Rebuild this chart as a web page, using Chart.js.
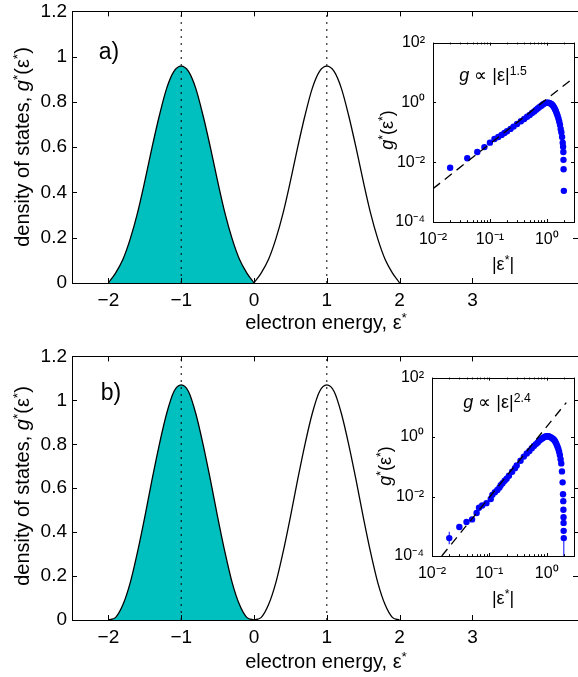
<!DOCTYPE html>
<html>
<head>
<meta charset="utf-8">
<script src="https://cdn.jsdelivr.net/npm/chart.js@4.4.1/dist/chart.umd.min.js"></script>
<style>
body{margin:0;background:#fff;font-family:'Liberation Sans',Arial,Helvetica,sans-serif;}
#fig{position:relative;width:578px;height:677px;overflow:hidden;}
#fig canvas{position:absolute;}
.lbl{position:absolute;white-space:nowrap;color:#000;line-height:1;}
.lbl sup{font-size:0.68em;vertical-align:0.5em;line-height:0;}
.ctr{transform:translate(-50%,-50%);}
.rot{transform:translate(-50%,-50%) rotate(-90deg);}
</style>
</head>
<body>
<div id="fig">
  <canvas id="mainA" width="578" height="345" style="left:0;top:-5px"></canvas>
  <canvas id="mainB" width="578" height="337" style="left:0;top:340px"></canvas>
  <canvas id="insA" width="198" height="260" style="left:380px;top:25px"></canvas>
  <canvas id="insB" width="198" height="260" style="left:380px;top:360px"></canvas>

  <div class="lbl rot" style="left:22px;top:147px;font-size:20px">density of states, <i>g</i><sup>*</sup>(ε<sup>*</sup>)</div>
  <div class="lbl ctr" style="left:326px;top:322px;font-size:20px">electron energy, ε<sup>*</sup></div>
  <div class="lbl ctr" style="left:109px;top:51px;font-size:23px">a)</div>
  <div class="lbl ctr" style="left:493px;top:75px;font-size:18px"><i>g</i> ∝ |ε|<sup>1.5</sup></div>
  <div class="lbl rot" style="left:387px;top:130px;font-size:18px"><i>g</i><sup>*</sup>(ε<sup>*</sup>)</div>
  <div class="lbl ctr" style="left:503px;top:264px;font-size:18px">|ε<sup>*</sup>|</div>

  <div class="lbl rot" style="left:22px;top:486px;font-size:20px">density of states, <i>g</i><sup>*</sup>(ε<sup>*</sup>)</div>
  <div class="lbl ctr" style="left:326px;top:661px;font-size:20px">electron energy, ε<sup>*</sup></div>
  <div class="lbl ctr" style="left:111px;top:392px;font-size:23px">b)</div>
  <div class="lbl ctr" style="left:497px;top:402px;font-size:18px"><i>g</i> ∝ |ε|<sup>2.4</sup></div>
  <div class="lbl rot" style="left:385px;top:466px;font-size:18px"><i>g</i><sup>*</sup>(ε<sup>*</sup>)</div>
  <div class="lbl ctr" style="left:503px;top:598px;font-size:18px">|ε<sup>*</sup>|</div>
</div>
<script>
// |energy| grid of the main curves (both bands are mirror images)
const EPS = [0,0.1,0.2,0.3,0.4,0.5,0.6,0.7,0.8,0.9,1.0,1.1,1.2,1.3,1.4,1.5,1.6,1.7,1.8,1.9,2.0];
const G_A = [0,0.045,0.105,0.195,0.31,0.45,0.6,0.74,0.86,0.935,0.958,0.935,0.86,0.74,0.6,0.45,0.31,0.195,0.105,0.045,0];
const G_B = [0,0.012,0.07,0.17,0.31,0.47,0.64,0.8,0.94,1.04,1.07,1.04,0.94,0.8,0.64,0.47,0.31,0.17,0.07,0.012,0];

const MAIN_X_TICKS = [-2,-1,0,1,2,3];
const MAIN_Y_TICKS = [0,0.2,0.4,0.6,0.8,1,1.2];
const MAIN_Y_LABELS = ['0','0.2','0.4','0.6','0.8','1','1.2'];
const PEAKS = [-1,1];

// inset a) : g vs |eps|, log-log
const IN_A_EPS = [0.02,0.04,0.06,0.08,0.10,0.12,0.14,0.16,0.18,0.20,0.23,0.26,0.30,
  0.35,0.40,0.45,0.50,0.55,0.60,0.65,0.70,0.75,0.80,0.85,0.90,0.95,1.00,1.05,1.10,1.15,1.20,
  1.25,1.30,1.35,1.40,1.45,1.50,1.55,1.60,1.65,1.70,1.75,1.80,1.85,1.90,
  1.93,1.95,1.96,1.97,1.99];
const IN_A_G = [0.0065,0.0135,0.022,0.032,0.045,0.06,0.07,0.082,0.095,0.108,0.13,0.155,0.19,
  0.235,0.28,0.33,0.38,0.44,0.5,0.57,0.64,0.71,0.78,0.85,0.91,0.95,0.98,0.98,0.96,0.93,0.88,
  0.82,0.74,0.66,0.58,0.5,0.42,0.35,0.29,0.23,0.18,0.13,0.1,0.07,0.045,
  0.033,0.022,0.012,0.0058,0.0011];
const FIT_A_EPS = [0.01,2.86];
const FIT_A_G = [0.0013,6.3];

// inset b)
const IN_B_EPS = [0.02,0.03,0.04,0.05,0.06,0.066,0.075,0.089,0.106,0.113,0.125,0.138,0.15,0.158,0.17,
  0.185,0.2,0.22,0.25,0.28,0.3,
  0.35,0.40,0.45,0.50,0.55,0.60,0.65,0.70,0.75,0.80,0.85,0.90,0.95,1.00,1.05,1.10,1.15,1.20,
  1.25,1.30,1.35,1.40,1.45,1.50,1.55,1.60,1.65,1.70,1.75,1.80,1.85,1.90,
  1.93,1.95,1.96,1.97,1.975,1.98,1.99];
const IN_B_G = [0.0004,0.00095,0.0014,0.0017,0.0028,0.0042,0.005,0.006,0.0083,0.0114,0.014,0.0166,0.02,0.024,0.028,
  0.034,0.04,0.05,0.068,0.09,0.11,
  0.16,0.22,0.28,0.34,0.42,0.5,0.58,0.66,0.76,0.84,0.92,0.99,1.04,1.07,1.07,1.04,1.0,0.96,
  0.91,0.86,0.8,0.72,0.64,0.55,0.47,0.4,0.32,0.25,0.18,0.13,0.07,0.03,
  0.012,0.007,0.0036,0.002,0.0013,0.0007,0.0004];
const FIT_B_EPS = [0.0148,2.2];
const FIT_B_G = [0.0001,14.5];
const ERR_B_EPS = [0.02,1.99];
const ERR_B_LO = [0.00025,0.0001];
const ERR_B_HI = [0.00065,0.0004];

const IN_X_TICKS = [0.01,0.1,1];
const IN_X_LABELS = ['10⁻²','10⁻¹','10⁰'];
const IN_Y_TICKS = [1e-4,1e-2,1,100];
const IN_Y_LABELS = ['10⁻⁴','10⁻²','10⁰','10²'];
const IN_X_MINOR = [0.02,0.03,0.04,0.05,0.06,0.07,0.08,0.09,0.2,0.3,0.4,0.5,0.6,0.7,0.8,0.9,2,3];

const FONT = "'Liberation Sans', Arial, Helvetica, sans-serif";
Chart.defaults.font.family = FONT;
Chart.defaults.color = '#000';

// matlab-like box with inward ticks
const boxTicks = {
  id: 'boxTicks',
  beforeDraw(chart, args, o) {
    if (!o.fill) return;
    const a = chart.chartArea, c = chart.ctx;
    c.save(); c.fillStyle = o.fill; c.fillRect(a.left, a.top, a.right - a.left, a.bottom - a.top); c.restore();
  },
  afterDraw(chart, args, o) {
    const {ctx, chartArea: a, scales: {x, y}} = chart;
    const L = o.len || 5;
    ctx.save();
    ctx.strokeStyle = '#000'; ctx.lineWidth = 1;
    ctx.beginPath();
    const vt = (v, len) => { const p = Math.round(x.getPixelForValue(v)) + 0.5;
      ctx.moveTo(p, a.bottom); ctx.lineTo(p, a.bottom - len); ctx.moveTo(p, a.top); ctx.lineTo(p, a.top + len); };
    const ht = (v, len) => { const p = Math.round(y.getPixelForValue(v)) + 0.5;
      ctx.moveTo(a.left, p); ctx.lineTo(a.left + len, p); ctx.moveTo(a.right, p); ctx.lineTo(a.right - len, p); };
    x.ticks.forEach(t => vt(t.value, L));
    y.ticks.forEach(t => ht(t.value, L));
    (o.minorX || []).forEach(v => vt(v, L * 0.6));
    ctx.stroke();
    ctx.strokeRect(Math.round(a.left) + 0.5, Math.round(a.top) + 0.5, Math.round(a.right - a.left), Math.round(a.bottom - a.top));
    ctx.restore();
  }
};

function mainChart(id, G, padTop, xH) {
  const left = EPS.map((e, i) => ({x: -e, y: G[i]})).reverse();
  const right = EPS.map((e, i) => ({x: e, y: G[i]}));
  const dotted = PEAKS.map(p => ({
    data: [{x: p, y: 0}, {x: p, y: 1.2}], borderColor: '#000', borderWidth: 1,
    borderDash: [2, 5], pointRadius: 0, order: 0
  }));
  return new Chart(document.getElementById(id), {
    type: 'line',
    data: { datasets: [
      ...dotted,
      { data: left, borderColor: '#000', borderWidth: 1.3, fill: 'origin', backgroundColor: '#00bfbf',
        pointRadius: 0, cubicInterpolationMode: 'monotone', order: 1 },
      { data: right, borderColor: '#000', borderWidth: 1.3, fill: false,
        pointRadius: 0, cubicInterpolationMode: 'monotone', order: 1 }
    ]},
    options: {
      responsive: false, animation: false, events: [],
      layout: { padding: { top: padTop, right: 0, left: 0, bottom: 0 } },
      plugins: { legend: { display: false }, tooltip: { enabled: false }, boxTicks: { len: 5 } },
      scales: {
        x: { type: 'linear', min: -2.5, max: 4.45,
          afterBuildTicks: s => { s.ticks = MAIN_X_TICKS.map(v => ({value: v})); },
          ticks: { callback: v => String(v).replace('-', '\u2212'), font: { size: 19 }, padding: 6, maxRotation: 0, autoSkip: false },
          grid: { display: false, drawTicks: false }, border: { display: false },
          afterFit: s => { s.height = xH; } },
        y: { type: 'linear', min: 0, max: 1.2,
          afterBuildTicks: s => { s.ticks = MAIN_Y_TICKS.map(v => ({value: v})); },
          ticks: { callback: (v, i) => MAIN_Y_LABELS[i], font: { size: 19 }, padding: 5, autoSkip: false },
          grid: { display: false, drawTicks: false }, border: { display: false },
          afterFit: s => { s.width = 72; } }
      }
    },
    plugins: [boxTicks]
  });
}

function insetChart(id, EX, GY, FX, FY, padTop, padRight, yW, xH, err) {
  const sets = [
    { type: 'line', data: FX.map((v, i) => ({x: v, y: FY[i]})), borderColor: '#000', borderWidth: 1.3,
      borderDash: [9, 6], pointRadius: 0, order: 0 },
    { type: 'scatter', data: EX.map((v, i) => ({x: v, y: GY[i]})), backgroundColor: '#0000ff',
      borderWidth: 0, pointRadius: 3.2, order: 1 }
  ];
  if (err) err.x.forEach((v, i) => sets.push({ type: 'line', data: [{x: v, y: err.lo[i]}, {x: v, y: err.hi[i]}],
    borderColor: '#3030ff', borderWidth: 1.2, pointRadius: 0, order: 2 }));
  return new Chart(document.getElementById(id), {
    type: 'scatter',
    data: { datasets: sets },
    options: {
      responsive: false, animation: false, events: [],
      layout: { padding: { top: padTop, right: padRight, left: 0, bottom: 0 } },
      plugins: { legend: { display: false }, tooltip: { enabled: false }, boxTicks: { len: 3, fill: '#fff', minorX: IN_X_MINOR } },
      scales: {
        x: { type: 'logarithmic', min: 0.01, max: 3,
          afterBuildTicks: s => { s.ticks = IN_X_TICKS.map(v => ({value: v})); },
          ticks: { callback: (v, i) => IN_X_LABELS[i], font: { size: 16 }, padding: 8, maxRotation: 0, autoSkip: false },
          grid: { display: false, drawTicks: false }, border: { display: false },
          afterFit: s => { s.height = xH; } },
        y: { type: 'logarithmic', min: 1e-4, max: 100,
          afterBuildTicks: s => { s.ticks = IN_Y_TICKS.map(v => ({value: v})); },
          ticks: { callback: (v, i) => IN_Y_LABELS[i], font: { size: 16 }, padding: 8, autoSkip: false },
          grid: { display: false, drawTicks: false }, border: { display: false },
          afterFit: s => { s.width = yW; } }
      }
    },
    plugins: [boxTicks]
  });
}

mainChart('mainA', G_A, 15, 57);
mainChart('mainB', G_B, 12, 57);
insetChart('insA', IN_A_EPS, IN_A_G, FIT_A_EPS, FIT_A_G, 14, 3, 53, 63, null);
insetChart('insB', IN_B_EPS, IN_B_G, FIT_B_EPS, FIT_B_G, 14, 4, 52, 64, {x: ERR_B_EPS, lo: ERR_B_LO, hi: ERR_B_HI});
</script>
</body>
</html>
